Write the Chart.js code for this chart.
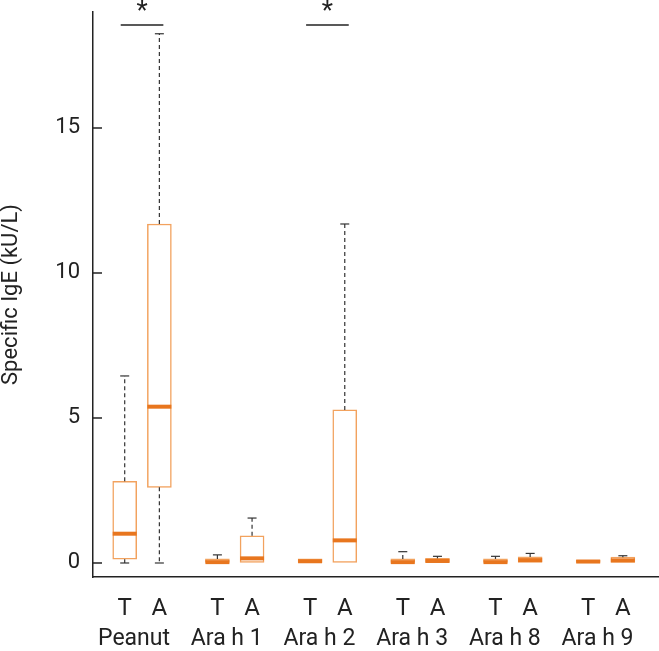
<!DOCTYPE html>
<html>
<head>
<meta charset="utf-8">
<script src="https://cdn.jsdelivr.net/npm/chart.js@4"></script>
<style>
  body { margin: 0; background: #fff; }
  #wrap { width: 659px; height: 651px; position: relative; }
</style>
</head>
<body>
<div id="wrap"><canvas id="myChart"></canvas></div>
<script>
const groups = ['Peanut', 'Ara h 1', 'Ara h 2', 'Ara h 3', 'Ara h 8', 'Ara h 9'];
const subgroups = ['T', 'A'];
// one entry per box: T, A for each group
const minVals = [0, 0, 0, 0, 0, 0, 0, 0, 0, 0, 0, 0];
const q1Vals = [0.13, 2.61, 0, 0, 0, 0, 0, 0, 0, 0, 0, 0];
const medianVals = [1.01, 5.39, 0.03, 0.16, 0.06, 0.78, 0.03, 0.07, 0.03, 0.1, 0.05, 0.09];
const q3Vals = [2.82, 11.69, 0.14, 0.94, 0.14, 5.28, 0.14, 0.16, 0.14, 0.21, 0.1, 0.2];
const maxVals = [6.45, 18.25, 0.28, 1.55, 0.14, 11.69, 0.39, 0.23, 0.23, 0.33, 0.1, 0.25];
const yTicks = [0, 5, 10, 15];
const sigGroups = [0, 2];
const sigLevel = 18.55;

const fontName = 'Roboto, "Liberation Sans", sans-serif';
const boxColor = '#f2a25e';
const medianColor = '#e8761e';
const inkColor = '#222';

function boxX(i) {
  let g = Math.floor(i / 2) + 1;
  return i % 2 === 0 ? g - 0.187 : g + 0.187;
}

let boxData = q1Vals.map((q1, i) => ({ x: boxX(i), y: [q1, q3Vals[i]] }));

const boxExtras = {
  id: 'boxExtras',
  afterDatasetsDraw(chart) {
    const ctx = chart.ctx;
    const xs = chart.scales.x;
    const ys = chart.scales.y;
    const half = 12;
    const cap = 4.5;
    ctx.save();
    for (let i = 0; i < medianVals.length; i++) {
      let px = xs.getPixelForValue(boxX(i));
      // whiskers
      ctx.strokeStyle = '#333';
      ctx.lineWidth = 1.2;
      if (maxVals[i] > q3Vals[i]) {
        ctx.setLineDash([4, 3]);
        ctx.beginPath();
        ctx.moveTo(px, ys.getPixelForValue(q3Vals[i]));
        ctx.lineTo(px, ys.getPixelForValue(maxVals[i]));
        ctx.stroke();
        ctx.setLineDash([]);
        ctx.beginPath();
        ctx.moveTo(px - cap, ys.getPixelForValue(maxVals[i]));
        ctx.lineTo(px + cap, ys.getPixelForValue(maxVals[i]));
        ctx.stroke();
      }
      if (minVals[i] < q1Vals[i]) {
        ctx.setLineDash([4, 3]);
        ctx.beginPath();
        ctx.moveTo(px, ys.getPixelForValue(q1Vals[i]));
        ctx.lineTo(px, ys.getPixelForValue(minVals[i]));
        ctx.stroke();
        ctx.setLineDash([]);
        ctx.beginPath();
        ctx.moveTo(px - cap, ys.getPixelForValue(minVals[i]));
        ctx.lineTo(px + cap, ys.getPixelForValue(minVals[i]));
        ctx.stroke();
      }
      // median
      ctx.strokeStyle = medianColor;
      ctx.lineWidth = 4;
      ctx.beginPath();
      ctx.moveTo(px - half, ys.getPixelForValue(medianVals[i]));
      ctx.lineTo(px + half, ys.getPixelForValue(medianVals[i]));
      ctx.stroke();
    }
    ctx.restore();
  },
  afterDraw(chart) {
    const ctx = chart.ctx;
    const xs = chart.scales.x;
    const ys = chart.scales.y;
    const area = chart.chartArea;
    ctx.save();
    // inward tick marks on the y axis
    ctx.strokeStyle = inkColor;
    ctx.lineWidth = 1.5;
    yTicks.forEach(v => {
      let py = ys.getPixelForValue(v);
      ctx.beginPath();
      ctx.moveTo(area.left, py);
      ctx.lineTo(area.left + 9, py);
      ctx.stroke();
    });
    // category labels
    ctx.fillStyle = inkColor;
    ctx.textAlign = 'center';
    ctx.textBaseline = 'middle';
    ctx.font = '24px ' + fontName;
    for (let i = 0; i < medianVals.length; i++) {
      ctx.fillText(subgroups[i % 2], xs.getPixelForValue(boxX(i)), 609);
    }
    ctx.font = '23px ' + fontName;
    groups.forEach((name, g) => {
      ctx.fillText(name, xs.getPixelForValue(g + 1) - 8, 639);
    });
    // significance bars
    ctx.lineWidth = 1.5;
    sigGroups.forEach(g => {
      let py = ys.getPixelForValue(sigLevel);
      ctx.beginPath();
      ctx.moveTo(xs.getPixelForValue(g + 1 - 0.23), py);
      ctx.lineTo(xs.getPixelForValue(g + 1 + 0.23), py);
      ctx.stroke();
      ctx.textBaseline = 'alphabetic';
      ctx.font = '26px ' + fontName;
      ctx.fillText('*', xs.getPixelForValue(g + 1), 19);
    });
    ctx.restore();
  }
};

let ctx = document.getElementById('myChart').getContext('2d');
let myGraph = new Chart(ctx, {
  type: 'bar',
  data: {
    datasets: [
      {
        data: boxData,
        backgroundColor: '#ffffff',
        borderColor: boxColor,
        borderWidth: 1.5,
        borderSkipped: false,
        barThickness: 24
      }
    ]
  },
  options: {
    responsive: true,
    maintainAspectRatio: false,
    animation: false,
    layout: { padding: { top: 12, left: 0, right: 0, bottom: 0 } },
    plugins: {
      legend: { display: false },
      tooltip: { enabled: false }
    },
    scales: {
      x: {
        type: 'linear',
        min: 0.471,
        max: 6.577,
        offset: false,
        grid: { display: false },
        border: { display: true, color: inkColor, width: 1.5 },
        ticks: { display: false },
        afterFit: s => { s.height = 74; s.paddingLeft = 0; s.paddingRight = 0; }
      },
      y: {
        type: 'linear',
        min: -0.483,
        max: 19.0,
        grid: { drawOnChartArea: false, drawTicks: false },
        border: { display: true, color: inkColor, width: 1.5 },
        afterBuildTicks: s => { s.ticks = yTicks.map(v => ({ value: v })); },
        ticks: {
          padding: 13,
          color: inkColor,
          font: { family: fontName, size: 22 }
        },
        title: {
          display: true,
          text: 'Specific IgE (kU/L)',
          color: inkColor,
          padding: { top: 0, bottom: 0 },
          font: { family: fontName, size: 22, lineHeight: 1 }
        },
        afterFit: s => { s.width = 93; s.paddingTop = 0; s.paddingBottom = 0; }
      }
    }
  },
  plugins: [boxExtras]
});
</script>
</body>
</html>
